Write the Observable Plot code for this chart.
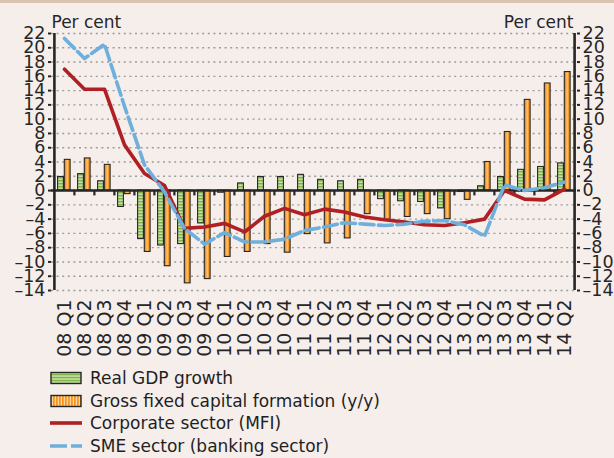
<!DOCTYPE html>
<html>
<head>
<meta charset="utf-8">
<script src="https://cdn.jsdelivr.net/npm/d3@7"></script>
<script src="https://cdn.jsdelivr.net/npm/@observablehq/plot@0.6"></script>
<style>
  html, body { margin: 0; padding: 0; background: #f5eeeb; }
  #wrap { width: 614px; height: 458px; position: relative; overflow: hidden; background: #f5eeeb; font-family: "DejaVu Sans", sans-serif; }
  #topband { height: 3px; background: #d9c5b2; }
  #chart { position: absolute; left: 0; top: 0; }
  #legend { position: absolute; left: 50px; top: 367px; font-size: 17px; color: #1f1f1f; }
  .row { height: 22.5px; display: flex; align-items: center; }
  .row svg { margin-right: 8px; flex: none; }
  #chart svg g[aria-label^="y-axis"] line, #chart svg g[aria-label="y-axis tick"] path { stroke-width: 2; }
  #chart svg g[aria-label^="x-axis"] text { font-size: 19px; }
  #chart svg g[aria-label^="y-axis"] text { font-size: 17.5px; }
</style>
</head>
<body>
<div id="wrap">
  <div id="chart"></div>
  <div id="topband" style="position:absolute;left:0;top:0;width:614px;"></div>
  <div id="legend"></div>
</div>
<script>
const quarters = ["08 Q1","08 Q2","08 Q3","08 Q4","09 Q1","09 Q2","09 Q3","09 Q4",
  "10 Q1","10 Q2","10 Q3","10 Q4","11 Q1","11 Q2","11 Q3","11 Q4",
  "12 Q1","12 Q2","12 Q3","12 Q4","13 Q1","13 Q2","13 Q3","13 Q4","14 Q1","14 Q2"];
const gdpGrowth = [1.9, 2.3, 1.3, -2.3, -6.8, -7.7, -7.5, -4.6, -0.3, 1.0, 1.9, 1.9, 2.2, 1.5, 1.3, 1.5,
  -1.2, -1.5, -1.6, -2.5, -0.2, 0.6, 1.9, 2.9, 3.3, 3.8];
const gfcf = [4.3, 4.5, 3.6, -0.5, -8.6, -10.6, -13.0, -12.4, -9.3, -8.6, -7.5, -8.7, -6.1, -7.4, -6.7, -3.3,
  -4.1, -3.7, -3.3, -4.0, -1.3, 4.0, 8.2, 12.7, 15.0, 16.6];
const corporateMFI = [17.0, 14.2, 14.2, 6.4, 2.4, 0.7, -5.3, -5.1, -4.6, -5.8, -3.6, -2.5, -3.4, -2.6, -3.0, -3.7,
  -4.1, -4.4, -4.8, -4.9, -4.5, -4.0, 0.0, -1.2, -1.3, 0.2];
const smeBanking = [21.3, 18.5, 20.5, 11.8, 3.6, -0.2, -5.3, -7.5, -5.9, -7.2, -7.2, -6.8, -5.6, -5.1, -4.5, -4.7,
  -4.9, -4.7, -4.3, -4.2, -4.8, -6.4, 0.8, 0.0, 0.4, 1.2];
const yTicks = [-14,-12,-10,-8,-6,-4,-2,0,2,4,6,8,10,12,14,16,18,20,22];
const seriesNames = ["Real GDP growth", "Gross fixed capital formation (y/y)", "Corporate sector (MFI)", "SME sector (banking sector)"];
const axisTitle = "Per cent";

const colors = { red: "#b01f24", blue: "#6eafdc", green: "#80b445", greenLight: "#e4f0d6", orange: "#f7941e", orangeLight: "#fddcb0", ink: "#262626" };

const data = quarters.map((q, i) => ({q, gdp: gdpGrowth[i], gfcf: gfcf[i], corp: corporateMFI[i], sme: smeBanking[i]}));
const W = 614, H = 362, mL = 51, mR = 38;
const bw = (W - mL - mR) / quarters.length;
const fmt = d => d < 0 ? "\u2013" + Math.abs(d) : String(d);

const plot = Plot.plot({
  width: W, height: H,
  marginLeft: mL, marginRight: mR, marginTop: 33, marginBottom: 72,
  style: { background: "transparent", fontFamily: "DejaVu Sans", fontSize: "18px", color: colors.ink, overflow: "visible" },
  x: { type: "band", domain: quarters, padding: 0, axis: "bottom", tickRotate: -90, tickSize: 0, tickPadding: 9, label: null },
  y: { domain: [-14, 22], axis: "both", ticks: yTicks, tickSize: 3, tickPadding: 3, tickFormat: fmt, label: null },
  marks: [
    Plot.ruleY(yTicks, { stroke: "#9c9c9c", strokeWidth: 1.4, strokeDasharray: "2,3.6" }),
    Plot.barY(data, { x: "q", y: "gdp", fill: "url(#gdpPat)", stroke: colors.ink, strokeWidth: 1.1, insetLeft: 3.6, insetRight: 10.6 }),
    Plot.barY(data, { x: "q", y: "gfcf", fill: "url(#gfcfPat)", stroke: colors.ink, strokeWidth: 1.1, insetLeft: 10.3, insetRight: 3.9 }),
    Plot.ruleY([0], { stroke: colors.ink, strokeWidth: 2.5 }),
    Plot.ruleX(quarters.slice(1), { x: d => d, y1: 0, y2: -0.75, dx: -bw / 2, stroke: colors.ink, strokeWidth: 2.2 }),
    Plot.ruleX([quarters[0]], { x: d => d, y1: -14, y2: 22, dx: -bw / 2, stroke: colors.ink, strokeWidth: 2.6 }),
    Plot.ruleX([quarters[quarters.length - 1]], { x: d => d, y1: -14, y2: 22, dx: bw / 2, stroke: colors.ink, strokeWidth: 2.6 }),
    Plot.line(data, { x: "q", y: "corp", stroke: colors.red, strokeWidth: 3.6, strokeLinejoin: "round" }),
    Plot.line(data, { x: "q", y: "sme", stroke: colors.blue, strokeWidth: 3.6, strokeDasharray: "14,4.5", strokeLinejoin: "round" }),
    Plot.text([axisTitle], { frameAnchor: "top-left", textAnchor: "start", lineAnchor: "bottom", dy: -6, fontSize: 17, fill: colors.ink }),
    Plot.text([axisTitle], { frameAnchor: "top-right", textAnchor: "end", lineAnchor: "bottom", dy: -6, dx: -3, fontSize: 17, fill: colors.ink })
  ]
});

const svg = d3.select(plot);
const defs = svg.insert("defs", ":first-child");
const gp = defs.append("pattern").attr("id", "gdpPat").attr("patternUnits", "userSpaceOnUse").attr("width", 6).attr("height", 3);
gp.append("rect").attr("width", 6).attr("height", 3).attr("fill", colors.green);
gp.append("rect").attr("y", 1.6).attr("width", 6).attr("height", 1.1).attr("fill", colors.greenLight);
const op = defs.append("pattern").attr("id", "gfcfPat").attr("patternUnits", "objectBoundingBox").attr("patternContentUnits", "objectBoundingBox").attr("width", 1).attr("height", 1);
op.append("rect").attr("width", 1).attr("height", 1).attr("fill", colors.orange);
op.append("rect").attr("x", 0.42).attr("width", 0.18).attr("height", 1).attr("fill", colors.orangeLight);
document.getElementById("chart").appendChild(plot);

// legend
const legend = d3.select("#legend");
const items = [
  { name: seriesNames[0], kind: "gdp" },
  { name: seriesNames[1], kind: "gfcf" },
  { name: seriesNames[2], kind: "corp" },
  { name: seriesNames[3], kind: "sme" }
];
items.forEach(it => {
  const row = legend.append("div").attr("class", "row");
  const s = row.append("svg").attr("width", 32).attr("height", 14);
  if (it.kind === "gdp") {
    const p = s.append("defs").append("pattern").attr("id", "lgG").attr("patternUnits", "userSpaceOnUse").attr("width", 4).attr("height", 3);
    p.append("rect").attr("width", 4).attr("height", 3).attr("fill", colors.green);
    p.append("rect").attr("y", 1.5).attr("width", 4).attr("height", 1.1).attr("fill", colors.greenLight);
    s.append("rect").attr("x", 1).attr("y", 1.5).attr("width", 30).attr("height", 11).attr("fill", "url(#lgG)").attr("stroke", colors.ink).attr("stroke-width", 1.4);
  } else if (it.kind === "gfcf") {
    const p = s.append("defs").append("pattern").attr("id", "lgO").attr("patternUnits", "userSpaceOnUse").attr("width", 3).attr("height", 4);
    p.append("rect").attr("width", 3).attr("height", 4).attr("fill", colors.orange);
    p.append("rect").attr("x", 1.8).attr("width", 1.1).attr("height", 4).attr("fill", colors.orangeLight);
    s.append("rect").attr("x", 1).attr("y", 1.5).attr("width", 30).attr("height", 11).attr("fill", "url(#lgO)").attr("stroke", colors.ink).attr("stroke-width", 1.4);
  } else if (it.kind === "corp") {
    s.append("line").attr("x1", 0).attr("x2", 32).attr("y1", 7).attr("y2", 7).attr("stroke", colors.red).attr("stroke-width", 3.6);
  } else {
    s.append("line").attr("x1", 0).attr("x2", 32).attr("y1", 7).attr("y2", 7).attr("stroke", colors.blue).attr("stroke-width", 3.6).attr("stroke-dasharray", "17,4");
  }
  row.append("span").text(it.name);
});
</script>
</body>
</html>
